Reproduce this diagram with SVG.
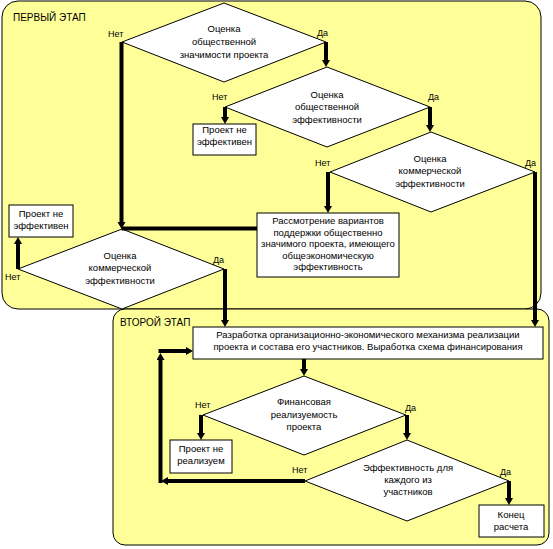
<svg xmlns="http://www.w3.org/2000/svg" width="553" height="549" viewBox="0 0 553 549">
<style>
.panel{fill:#FFFF99;stroke:#000;stroke-width:1}
.dia{fill:#fff;stroke:#000;stroke-width:1}
.box{fill:#fff;stroke:#000;stroke-width:1}
.t{font-family:"Liberation Sans",Arial,sans-serif;font-size:9.5px;fill:#000;text-anchor:middle}
.l{font-family:"Liberation Sans",Arial,sans-serif;font-size:9px;fill:#000}
.h{font-family:"Liberation Sans",Arial,sans-serif;font-size:10px;fill:#000}
.c{fill:none;stroke:#000;stroke-width:4}
</style>
<defs>
<marker id="ah" markerUnits="userSpaceOnUse" markerWidth="10" markerHeight="10" refX="2" refY="4" orient="auto">
<path d="M0,0 L7,4 L0,8 z" fill="#000"/>
</marker>
</defs>
<g id="panel1"><rect class="panel" x="2" y="1" width="539" height="308" rx="16" ry="16"/><text class="h" x="13" y="21">ПЕРВЫЙ ЭТАП</text></g>
<g id="panel2"><rect class="panel" x="113" y="309" width="436" height="236" rx="12" ry="12"/><text class="h" x="120" y="326">ВТОРОЙ ЭТАП</text></g>

<g id="d1"><polygon class="dia" points="122,42 224,3 326,42 224,82"/>
<text class="t" x="224" y="32">Оценка</text><text class="t" x="224" y="45">общественной</text><text class="t" x="224" y="57.5">значимости проекта</text></g>
<g id="d2"><polygon class="dia" points="225,107 327,67 430,107 327,147"/>
<text class="t" x="327" y="97.5">Оценка</text><text class="t" x="327" y="110">общественной</text><text class="t" x="327" y="122.5">эффективности</text></g>
<g id="b1"><rect class="box" x="193" y="124" width="63" height="31"/>
<text class="t" x="224.5" y="133">Проект не</text><text class="t" x="224.5" y="145">эффективен</text></g>
<g id="d3"><polygon class="dia" points="330,172 431,132 535,172 431,212"/>
<text class="t" x="430" y="161.5">Оценка</text><text class="t" x="430" y="174">коммерческой</text><text class="t" x="430" y="186.5">эффективности</text></g>
<g id="b2"><rect class="box" x="257" y="213" width="142" height="64"/>
<text class="t" x="328" y="224">Рассмотрение вариантов</text><text class="t" x="328" y="235.5">поддержки общественно</text><text class="t" x="328" y="247">значимого проекта, имеющего</text><text class="t" x="328" y="258.5">общеэкономическую</text><text class="t" x="328" y="270">эффективность</text></g>
<g id="d4"><polygon class="dia" points="18,269 122,229 224,269 122,309"/>
<text class="t" x="120" y="258.5">Оценка</text><text class="t" x="120" y="271">коммерческой</text><text class="t" x="120" y="283.5">эффективности</text></g>
<g id="b3"><rect class="box" x="9" y="205" width="64" height="32"/>
<text class="t" x="41" y="217">Проект не</text><text class="t" x="41" y="229">эффективен</text></g>
<g id="b4"><rect class="box" x="193" y="327" width="350" height="32"/>
<text class="t" x="368" y="338">Разработка организационно-экономического механизма реализации</text><text class="t" x="368" y="350">проекта и состава его участников. Выработка схема финансирования</text></g>
<g id="d5"><polygon class="dia" points="203,415 304,376 406,415 304,455"/>
<text class="t" x="304" y="405">Финансовая</text><text class="t" x="304" y="417.5">реализуемость</text><text class="t" x="304" y="430">проекта</text></g>
<g id="b5"><rect class="box" x="170" y="440" width="62" height="33"/>
<text class="t" x="201" y="452">Проект не</text><text class="t" x="201" y="464">реализуем</text></g>
<g id="d6"><polygon class="dia" points="305,481 407,440 509,481 407,521"/>
<text class="t" x="408" y="471">Эффективность для</text><text class="t" x="408" y="483">каждого из</text><text class="t" x="408" y="495">участников</text></g>
<g id="b6"><rect class="box" x="479" y="505" width="65" height="32"/>
<text class="t" x="511" y="518">Конец</text><text class="t" x="511" y="530">расчета</text></g>

<g id="connectors">
<path class="c" d="M121.5,42 V224" marker-end="url(#ah)"/>
<path class="c" d="M326,42 V62" marker-end="url(#ah)"/>
<path class="c" d="M225,107 V119" marker-end="url(#ah)"/>
<path class="c" d="M430,107 V127" marker-end="url(#ah)"/>
<path class="c" d="M328,172 V208" marker-end="url(#ah)"/>
<path class="c" d="M257,228.5 H121.5"/>
<path class="c" d="M535,172 V322" marker-end="url(#ah)"/>
<path class="c" d="M18,269 V242" marker-end="url(#ah)"/>
<path class="c" d="M225,269 V322" marker-end="url(#ah)"/>
<path class="c" d="M304,359 V371" marker-end="url(#ah)"/>
<path class="c" d="M201,415 V435" marker-end="url(#ah)"/>
<path class="c" d="M407,415 V435" marker-end="url(#ah)"/>
<path class="c" d="M509,481 V500" marker-end="url(#ah)"/>
<path class="c" d="M305,481 H166" marker-end="url(#ah)"/>
<path class="c" d="M160.5,483 V358" marker-end="url(#ah)"/>
<path class="c" d="M158.5,351 H188" marker-end="url(#ah)"/>
</g>

<g id="labels">
<text class="l" x="108" y="37">Нет</text><text class="l" x="317" y="36">Да</text>
<text class="l" x="212" y="100">Нет</text><text class="l" x="428" y="100">Да</text>
<text class="l" x="315" y="166">Нет</text><text class="l" x="525" y="166">Да</text>
<text class="l" x="5" y="280">Нет</text><text class="l" x="213" y="263">Да</text>
<text class="l" x="195" y="408">Нет</text><text class="l" x="405" y="411">Да</text>
<text class="l" x="292" y="473">Нет</text><text class="l" x="500" y="475">Да</text>
</g>
</svg>
